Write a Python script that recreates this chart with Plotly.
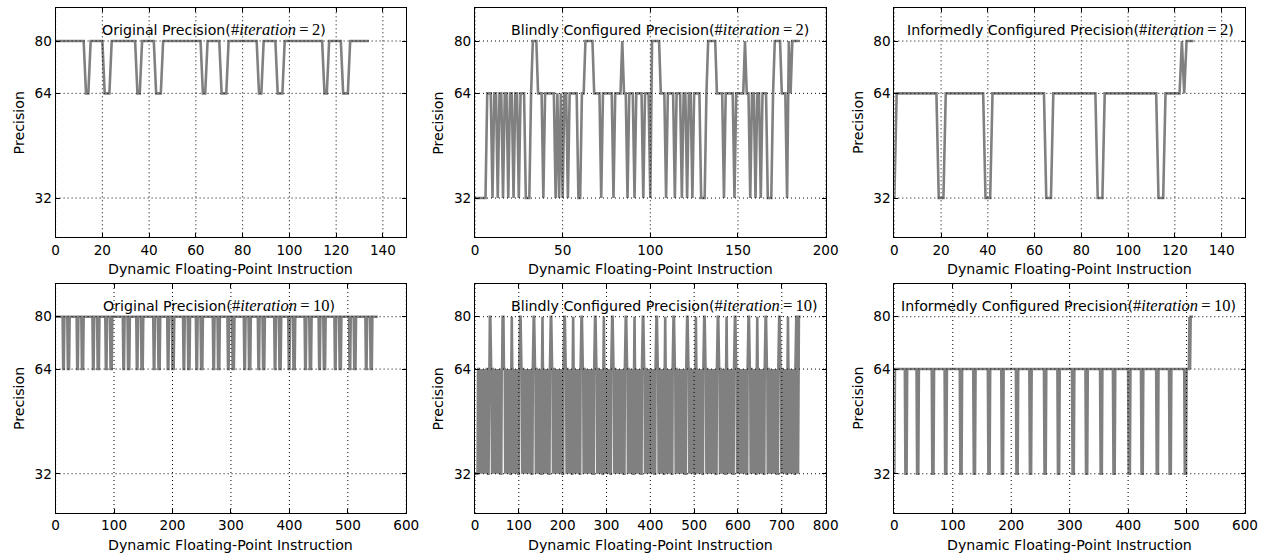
import plotly.graph_objects as go

W, H = 1281, 556

# ---------------- data ----------------
y_ticks = [32, 64, 80]
x_ticks_150 = [0, 20, 40, 60, 80, 100, 120, 140]
x_ticks_200 = [0, 50, 100, 150, 200]
x_ticks_600 = [0, 100, 200, 300, 400, 500, 600]
x_ticks_800 = [0, 100, 200, 300, 400, 500, 600, 700, 800]

titles = ["Original Precision", "Blindly Configured Precision", "Informedly Configured Precision"]
iterations = [2, 10]

# Original precision: stays at 80 bits, dips to 64 bits (dip start, length at 64)
orig2_dip_start = [12, 20, 34, 42, 62, 70, 86, 94, 114, 122]
orig2_dip_len = [2, 3, 2, 3, 2, 3, 2, 3, 2, 3]
orig2_end = 134

orig10_dip_start = [12, 20, 36, 44, 63, 71, 85, 93, 115, 123, 138, 146, 167, 175,
                    191, 199, 218, 226, 240, 248, 269, 277, 294, 302, 322, 330,
                    346, 354, 374, 382, 398, 406, 426, 434, 450, 458, 477, 485,
                    502, 510, 530, 538]
orig10_dip_len = [2, 3, 2, 3, 2, 3, 2, 3, 2, 3, 2, 3, 2, 3, 2, 3, 2, 3, 2, 3, 2,
                  3, 2, 3, 2, 3, 2, 3, 2, 3, 2, 3, 2, 3, 2, 3, 2, 3, 2, 3, 2, 3]
orig10_end = 551

# Informedly configured precision: mostly 64 bits, dips to 32 bits, ends at 80 bits
inf2_dip_start = [18, 38, 64, 86, 112]
inf2_dip_len = [3, 3, 3, 3, 3]
inf2_tail_x = [122, 123, 124, 125, 128]
inf2_tail_y = [64, 80, 64, 80, 80]

inf10_dip_start = [18, 38, 64, 86, 112, 135, 160, 183, 208, 231, 256, 279, 304,
                   327, 352, 374, 400, 422, 448, 470, 496]
inf10_dip_len = [3, 3, 3, 3, 3, 3, 3, 3, 3, 3, 3, 3, 3, 3, 3, 3, 3, 3, 3, 3, 3]
inf10_tail_x = [504, 505, 506, 507, 511]
inf10_tail_y = [64, 80, 64, 80, 80]

# Blindly configured precision: one code per instruction (3=32, 6=64, 8=80 bits)
code_bits = {"3": 32, "6": 64, "8": 80}
blind2_codes = (
    "3333333 666 3 66 3 66 3 66 3 66 3 66 3 666 333 6 888 666 3 666666 3 6 3 6 3 66 "
    "3 66666 33 66 88888 6666 3 666666 3 6666 8 66 3 666 3 6666 3 666 3 88888 666 3 "
    "6666 3 666 3 66 3 66 3 6666 333 6 88888 6666 3 66666 3 66666 8 66 3 66 3 66 3 "
    "666 333 6 8888 666 3 8 6 88888"
)
blind10_codes = (
    "3333333 666 3 66 3 66 3 66 3 66 3 66 3 666 333 6 888 666 3 66 3 6 3 6 3 6 3 66 3 6 3 66 3 66 33 66 "
    "888 666 3 66 3 66 3 66 3 66 33 6 8 66 3 66 3 66 3 66 3 66 33 6 "
    "888 666 3 66 3 66 3 66 3 66 3 66 3 66 3 66 333 6 888 666 3 66 3 66 3 66 3 66 33 6 8 66 3 66 3 66 3 66 3 66 33 6 "
    "888 666 3 66 3 66 3 66 3 66 3 66 3 66 3 66 333 6 888 666 3 66 3 66 3 66 3 66 33 6 8 66 3 66 3 66 3 66 3 66 33 6 "
    "888 666 3 66 3 66 3 66 3 66 3 66 3 66 3 66 333 6 888 666 3 66 3 66 3 66 3 66 33 6 8 66 3 66 3 66 3 66 3 66 33 6 "
    "888 666 3 66 3 66 3 66 3 66 3 66 3 66 3 66 333 6 888 666 3 66 3 66 3 66 3 66 33 6 8 66 3 66 3 66 3 66 3 66 33 6 "
    "888 666 3 66 3 66 3 66 3 66 3 66 3 66 3 66 333 6 888 666 3 66 3 66 3 66 3 66 33 6 8 66 3 66 3 66 3 66 3 66 33 6 "
    "888 666 3 66 3 66 3 66 3 66 3 66 3 66 3 66 333 6 888 666 3 66 3 66 3 66 3 66 33 6 8 66 3 66 3 66 3 66 3 66 33 6 "
    "888 666 3 66 3 66 3 66 3 66 3 66 3 66 3 66 333 6 888 666 3 66 3 66 3 66 3 66 33 6 8 66 3 66 3 66 3 66 3 66 33 6 "
    "888 666 3 66 3 66 3 66 3 66 3 66 3 66 3 66 333 6 888 666 3 66 3 66 3 66 3 66 33 6 8 66 3 66 3 66 3 66 3 66 33 6 "
    "888 666 3 66 3 66 3 66 3 66 3 66 3 66 3 66 333 6 888 666 3 66 3 66 3 66 3 66 33 6 8 66 3 66 3 66 3 66 3 66 33 6 "
    "888 3 6 3 888888"
)


# ---------------- helpers ----------------
def dips_to_line(first_x, first_y, hi, lo, starts, lens, last_x, last_y):
    xs, ys = list(first_x), list(first_y)
    for s, n in zip(starts, lens):
        xs += [s, s + 1, s + n, s + n + 1]
        ys += [hi, lo, lo, hi]
    xs += list(last_x)
    ys += list(last_y)
    return xs, ys


def codes_to_line(codes):
    vals = [code_bits[c] for c in codes if c in code_bits]
    return list(range(len(vals))), vals


series = [
    dips_to_line([0], [80], 80, 64, orig2_dip_start, orig2_dip_len, [orig2_end], [80]),
    codes_to_line(blind2_codes),
    dips_to_line([0, 1], [32, 64], 64, 32, inf2_dip_start, inf2_dip_len, inf2_tail_x, inf2_tail_y),
    dips_to_line([0], [80], 80, 64, orig10_dip_start, orig10_dip_len, [orig10_end], [80]),
    codes_to_line(blind10_codes),
    dips_to_line([0, 1], [32, 64], 64, 32, inf10_dip_start, inf10_dip_len, inf10_tail_x, inf10_tail_y),
]
x_ranges = [150, 200, 150, 600, 800, 600]
x_tick_sets = [x_ticks_150, x_ticks_200, x_ticks_150, x_ticks_600, x_ticks_800, x_ticks_600]

# ---------------- layout geometry (window pixels) ----------------
col_left = [52.3, 477.3, 902.3]
plot_w = 355.4
row_top = [8.3, 284.0]
plot_h = 229.0
title_pos = [(213, 29), (665, 29), (1081, 29), (217.5, 305), (669, 305), (1079, 305)]


def px(xw):
    return xw / W


def py(yw):
    return 1 - yw / H


FONT = "DejaVu Sans"
MATH = "Liberation Serif"
GRID_DASH = "1px,3px"
TICK_SIZE = 13.6
TEXT_SIZE = 14.2

fig = go.Figure()
layout = dict(
    width=W, height=H, margin=dict(l=0, r=0, t=0, b=0),
    paper_bgcolor="white", plot_bgcolor="white", showlegend=False,
    font=dict(family=FONT, size=TEXT_SIZE, color="black"),
)
shapes, annotations = [], []

for i in range(6):
    r, c = divmod(i, 3)
    n = i + 1
    sfx = "" if n == 1 else str(n)
    xref, yref = f"x{sfx}", f"y{sfx}"
    xs, ys = series[i]
    fig.add_trace(go.Scatter(
        x=xs, y=ys, mode="lines", line=dict(color="#808080", width=2.6),
        xaxis=xref, yaxis=yref, hoverinfo="skip", showlegend=False,
    ))
    common = dict(
        ticks="inside", ticklen=4, tickwidth=1, tickcolor="black",
        showline=True, linecolor="black", linewidth=1, mirror="allticks",
        showgrid=False, zeroline=False,
        tickfont=dict(family=FONT, size=TICK_SIZE, color="black"),
        fixedrange=True,
    )
    layout[f"xaxis{sfx}"] = dict(
        domain=[px(col_left[c]), px(col_left[c] + plot_w)], range=[0, x_ranges[i]],
        anchor=yref, tickvals=x_tick_sets[i], ticktext=[str(v) for v in x_tick_sets[i]],
        **common,
    )
    layout[f"yaxis{sfx}"] = dict(
        domain=[py(row_top[r] + plot_h), py(row_top[r])], range=[20, 90], anchor=xref,
        tickvals=y_ticks, ticktext=[str(v) for v in y_ticks],
        **common,
    )
    # dotted grid drawn above the data, as in the reference
    for xv in x_tick_sets[i]:
        shapes.append(dict(type="line", xref=xref, yref=f"{yref} domain",
                           x0=xv, x1=xv, y0=0, y1=1, layer="above",
                           line=dict(color="black", width=1, dash=GRID_DASH)))
    for yv in y_ticks:
        shapes.append(dict(type="line", xref=f"{xref} domain", yref=yref,
                           x0=0, x1=1, y0=yv, y1=yv, layer="above",
                           line=dict(color="black", width=1, dash=GRID_DASH)))
    # in-plot title
    tx, ty = title_pos[i]
    txt = (f"{titles[c]}(<span style=\"font-family:'{MATH}';font-size:16.5px\">#<i>iteration</i>"
           f"\u2009=\u2009{iterations[r]}</span>)")
    annotations.append(dict(text=txt, x=px(tx), y=py(ty), xref="paper", yref="paper",
                            xanchor="center", yanchor="middle", showarrow=False,
                            font=dict(family=FONT, size=TEXT_SIZE, color="black")))
    # axis titles
    annotations.append(dict(text="Dynamic Floating-Point Instruction",
                            x=px(col_left[c] + plot_w / 2),
                            y=py(row_top[r] + plot_h + 31.7),
                            xref="paper", yref="paper", xanchor="center", yanchor="middle",
                            showarrow=False, font=dict(family=FONT, size=TEXT_SIZE, color="black")))
    annotations.append(dict(text="Precision", textangle=-90,
                            x=px(col_left[c] - 37.5),
                            y=py(row_top[r] + plot_h / 2),
                            xref="paper", yref="paper", xanchor="center", yanchor="middle",
                            showarrow=False, font=dict(family=FONT, size=TEXT_SIZE, color="black")))

layout["shapes"] = shapes
layout["annotations"] = annotations
fig.update_layout(**layout)
# remove the page's default body margin so the figure fills the window exactly
fig.write_html(
    "out.html",
    config={"displayModeBar": False, "staticPlot": True},
    post_script="document.body.style.margin='0px';document.body.style.overflow='hidden';",
)
